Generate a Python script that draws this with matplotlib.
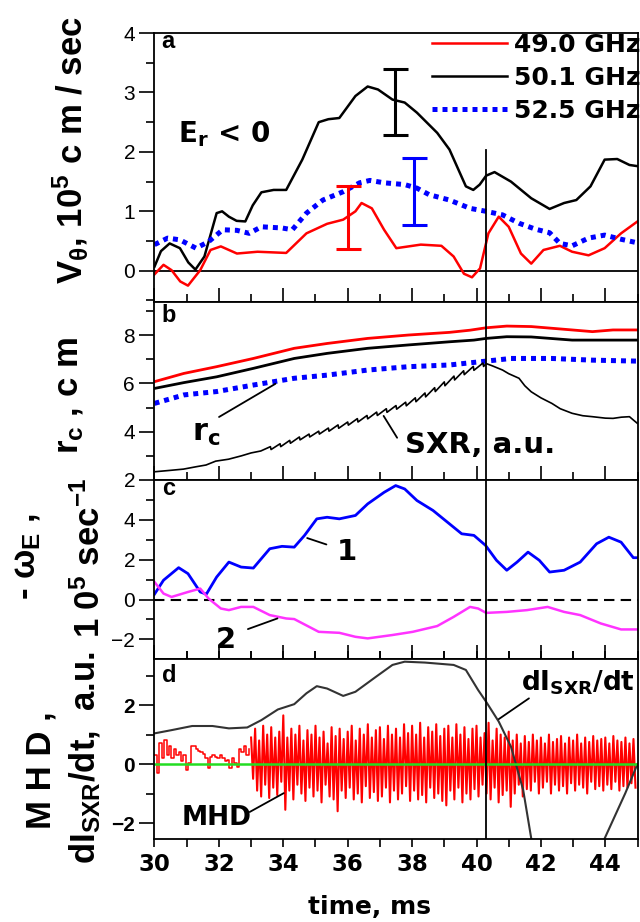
import matplotlib
matplotlib.use("Agg")
import matplotlib.pyplot as plt
import numpy as np
from matplotlib.ticker import MultipleLocator, FixedLocator

# ---- panel a: poloidal velocity, 10^5 cm/s ----
va_t_black = [30.0, 30.2, 30.47, 30.79, 31.05, 31.27, 31.55, 31.93, 32.1, 32.31, 32.55, 32.82, 33.05,
              33.32, 33.7, 34.09, 34.59, 35.10, 35.4, 35.74, 36.24, 36.62, 36.94, 37.39, 37.77,
              38.15, 38.78, 39.16, 39.67, 39.90, 40.10, 40.30, 40.56, 41.07, 41.70, 42.27, 42.72,
              43.10, 43.54, 43.98, 44.37, 44.75, 45.0]
va_black = [0.07, 0.33, 0.46, 0.38, 0.14, 0.02, 0.24, 0.97, 1.0, 0.91, 0.84, 0.83, 1.1,
            1.32, 1.36, 1.36, 1.87, 2.50, 2.55, 2.57, 2.94, 3.10, 3.05, 2.88, 2.83,
            2.66, 2.32, 2.04, 1.42, 1.36, 1.45, 1.60, 1.66, 1.50, 1.22, 1.04, 1.14,
            1.19, 1.42, 1.87, 1.88, 1.78, 1.76]
va_t_red = [30.0, 30.28, 30.53, 30.8, 31.04, 31.42, 31.74, 32.06, 32.56, 33.20, 34.09, 34.72, 35.36,
            35.86, 36.24, 36.43, 36.75, 37.13, 37.51, 37.89, 38.27, 38.91, 39.29, 39.61, 39.86,
            40.11, 40.37, 40.69, 41.00, 41.38, 41.70, 42.08, 42.59, 42.97, 43.48, 43.98, 44.49, 45.0]
va_red = [-0.06, 0.10, 0.01, -0.18, -0.25, 0.01, 0.35, 0.41, 0.29, 0.32, 0.30, 0.63, 0.79,
          0.86, 1.00, 1.14, 1.05, 0.69, 0.38, 0.41, 0.44, 0.42, 0.24, -0.05, -0.11,
          0.04, 0.63, 0.91, 0.74, 0.29, 0.12, 0.35, 0.42, 0.32, 0.26, 0.38, 0.63, 0.83]
va_t_blue = [30.0, 30.41, 30.79, 31.29, 31.68, 32.12, 32.56, 32.94, 33.32, 33.96, 34.28, 34.72,
             35.23, 35.86, 36.37, 36.69, 37.13, 37.77, 38.15, 38.53, 39.16, 39.80, 40.30, 40.81,
             41.32, 41.83, 42.27, 42.59, 42.97, 43.48, 43.98, 44.49, 45.0]
va_blue = [0.44, 0.55, 0.52, 0.38, 0.49, 0.69, 0.68, 0.63, 0.74, 0.72, 0.69, 0.97,
           1.19, 1.33, 1.48, 1.52, 1.48, 1.45, 1.39, 1.28, 1.19, 1.05, 1.00, 0.94,
           0.80, 0.70, 0.64, 0.46, 0.42, 0.55, 0.60, 0.53, 0.47]
err_x = [36.0, 37.47, 38.05]
err_y = [0.90, 2.84, 1.33]
err_half = [0.53, 0.55, 0.56]
err_colors = ["red", "black", "blue"]
freq_labels = ["49.0 GHz", "50.1 GHz", "52.5 GHz"]

# ---- panel b: cutoff radius and SXR ----
rc_t = [30.0, 30.91, 31.93, 33.07, 34.34, 35.36, 36.62, 37.89, 39.16, 39.80, 40.30, 40.94,
        41.70, 42.97, 43.60, 44.24, 45.0]
rc_red = [6.07, 6.41, 6.69, 7.03, 7.45, 7.65, 7.86, 8.00, 8.11, 8.20, 8.30, 8.37,
          8.35, 8.21, 8.14, 8.21, 8.21]
rc_t_black = [30.0, 30.91, 31.93, 33.07, 34.34, 35.36, 36.62, 37.89, 39.16, 39.92, 40.30, 40.94,
              41.70, 42.97, 45.0]
rc_black = [5.79, 6.03, 6.27, 6.62, 7.03, 7.24, 7.45, 7.59, 7.72, 7.79, 7.86, 7.93,
            7.92, 7.79, 7.79]
rc_t_blue = [30.0, 30.91, 31.93, 33.07, 34.34, 35.36, 36.62, 37.89, 39.16, 40.30, 41.07, 42.34,
             43.60, 45.0]
rc_blue = [5.17, 5.52, 5.66, 5.93, 6.21, 6.34, 6.55, 6.69, 6.76, 6.92, 7.03, 7.03,
           6.96, 6.92]
sxr_t = [30.0, 30.5, 30.9, 31.3, 31.6, 31.9, 32.3, 32.7, 33.0, 33.3,
         33.60, 33.62, 33.90, 33.92, 34.20, 34.22, 34.50, 34.52, 34.80, 34.82,
         35.10, 35.12, 35.40, 35.42, 35.70, 35.72, 36.00, 36.02, 36.30, 36.32,
         36.60, 36.62, 36.90, 36.92, 37.20, 37.22, 37.50, 37.52, 37.80, 37.82,
         38.10, 38.12, 38.40, 38.42, 38.70, 38.72, 39.00, 39.02, 39.30, 39.32,
         39.60, 39.62, 39.90, 39.92, 40.20, 40.22, 40.30, 40.50, 40.81, 41.00,
         41.32, 41.50, 41.70, 42.00, 42.34, 42.60, 42.97, 43.30, 43.60, 44.00,
         44.24, 44.50, 44.75, 44.90, 45.0]
sxr_v = [2.34, 2.40, 2.45, 2.55, 2.62, 2.78, 2.86, 3.00, 3.12, 3.20,
         3.38, 3.26, 3.50, 3.38, 3.64, 3.52, 3.78, 3.66, 3.90, 3.78,
         4.02, 3.90, 4.15, 4.02, 4.28, 4.14, 4.40, 4.27, 4.54, 4.40,
         4.67, 4.53, 4.81, 4.67, 4.95, 4.80, 5.08, 4.93, 5.22, 5.07,
         5.40, 5.24, 5.60, 5.44, 5.82, 5.66, 6.06, 5.90, 6.30, 6.14,
         6.52, 6.36, 6.70, 6.54, 6.84, 6.70, 6.82, 6.72, 6.55, 6.40,
         6.21, 5.90, 5.65, 5.40, 5.17, 4.95, 4.76, 4.66, 4.62, 4.56,
         4.55, 4.60, 4.62, 4.45, 4.34]

# ---- panel c: -omega_E, 10^5 1/s ----
w_t1 = [30.0, 30.28, 30.75, 31.04, 31.42, 31.61, 31.93, 32.31, 32.69, 33.07, 33.58, 33.96,
        34.34, 34.66, 35.04, 35.36, 35.74, 36.24, 36.62, 37.13, 37.49, 37.77, 38.15, 38.65,
        39.16, 39.54, 39.92, 40.28, 40.62, 40.94, 41.26, 41.60, 41.95, 42.27, 42.72, 43.22,
        43.73, 44.11, 44.49, 44.87, 45.0]
w_1 = [0.27, 0.97, 1.60, 1.30, 0.38, 0.27, 1.13, 1.88, 1.63, 1.58, 2.55, 2.67,
       2.63, 3.22, 4.05, 4.13, 4.05, 4.22, 4.80, 5.38, 5.72, 5.55, 4.97, 4.47,
       3.80, 3.30, 3.22, 2.72, 1.97, 1.47, 1.88, 2.38, 1.97, 1.38, 1.47, 1.88,
       2.80, 3.13, 2.88, 2.10, 2.10]
w_t2 = [30.0, 30.28, 30.53, 31.04, 31.42, 31.68, 32.06, 32.31, 32.69, 33.07, 33.58, 34.09,
        34.34, 35.10, 35.74, 36.24, 36.62, 37.39, 38.02, 38.78, 39.29, 39.80, 40.05, 40.30,
        40.94, 41.57, 42.21, 42.72, 43.22, 43.86, 44.49, 45.0]
w_2 = [0.88, 0.30, 0.13, 0.38, 0.55, 0.05, -0.45, -0.53, -0.37, -0.37, -0.78, -0.95,
       -0.98, -1.62, -1.67, -1.87, -1.95, -1.78, -1.62, -1.33, -0.87, -0.37, -0.45, -0.67,
       -0.62, -0.53, -0.37, -0.62, -0.78, -1.20, -1.50, -1.50]

# ---- panel d: MHD and dI_SXR/dt ----
dsxr_t = [30.0, 30.53, 31.17, 31.80, 32.31, 32.88, 33.32, 33.83, 34.34, 34.72, 35.04, 35.36,
          35.86, 36.24, 36.88, 37.39, 37.77, 38.40, 39.29, 39.67, 40.05, 40.30, 40.69, 41.07,
          41.45, 41.70, 42.80, 43.98, 44.62, 45.0]
dsxr_v = [1.04, 1.15, 1.29, 1.29, 1.21, 1.24, 1.49, 1.85, 2.03, 2.40, 2.64, 2.56,
          2.31, 2.45, 2.96, 3.36, 3.47, 3.44, 3.36, 3.19, 2.51, 2.11, 1.44, 0.59,
          -0.88, -2.52, -5.5, -2.52, -0.99, 0.0]
mhd_early = [0.30, -0.30, 0.70, 0.20, 0.80, 0.30, 0.60, 0.20, 0.50, 0.30,
             0.40, 0.10, 0.30, -0.20, 0.05, 0.60, 0.60, 0.50, 0.45, 0.40,
             0.35, 0.20, -0.15, 0.25, 0.30, 0.25, 0.20, 0.30, 0.20, 0.10,
             0.15, -0.15, 0.20, 0.05, -0.10, 0.50, 0.40, 0.60, 0.30, 0.50]
mhd_peaks = [0.9, 1.2, 0.8, 1.3, 1.0, 1.25, 0.9, 1.1,
             1.65, 0.9, 1.2, 1.0, 1.3, 0.8, 1.15, 1.0,
             1.3, 0.9, 1.1, 0.7, 1.25, 0.95, 1.2, 0.85,
             1.1, 1.3, 0.8, 1.2, 1.0, 1.35, 0.9, 1.15,
             1.25, 0.85, 1.3, 1.0, 1.2, 0.9, 1.35, 1.05,
             1.3, 1.0, 1.4, 0.9, 1.25, 1.1, 1.35, 0.95,
             1.2, 1.3, 0.9, 1.35, 1.0, 1.25, 0.85, 1.2,
             1.3, 0.9, 1.05, 1.4, 0.8, 1.2, 1.0, 0.9,
             1.1, 0.8, 1.0, 0.7, 0.95, 0.75, 1.0, 0.8,
             0.9, 0.7, 1.0, 0.75, 0.85, 0.95, 0.7, 0.9,
             0.8, 1.0, 0.7, 0.9, 0.75, 0.95, 0.8, 0.85,
             0.9, 0.7, 0.95, 0.8, 0.75, 0.9, 0.7, 0.85]
mhd_troughs = [-0.5, -0.9, -1.1, -0.7, -1.15, -0.8, -1.05, -0.6,
               -1.55, -0.9, -1.2, -0.7, -1.0, -1.25, -0.8, -1.1,
               -0.9, -1.3, -0.7, -1.1, -1.2, -1.6, -0.9, -1.15,
               -0.8, -1.2, -1.0, -1.3, -0.75, -1.15, -0.95, -1.25,
               -1.1, -0.8, -1.3, -0.9, -1.2, -1.0, -0.75, -1.25,
               -0.9, -1.2, -1.05, -1.3, -0.8, -1.15, -1.0, -1.25,
               -1.4, -0.9, -1.2, -0.8, -1.3, -1.0, -1.2, -0.85,
               -1.1, -0.7, -1.0, -1.2, -0.8, -1.3, -1.05, -0.9,
               -1.45, -1.0, -0.7, -1.1, -0.85, -0.9, -0.6, -1.0,
               -0.8, -0.6, -1.0, -0.7, -0.9, -0.75, -1.0, -0.65,
               -0.9, -0.7, -0.8, -1.0, -0.6, -0.85, -0.75, -0.9,
               -0.7, -0.85, -0.6, -0.9, -0.75, -0.8, -0.65, -0.8]

T_EVENT = 40.3        # vertical marker, ms
T_EVENT_TOP_A = 2.03  # marker only reaches this height in panel a

BOLD_WIDE = {"family": "DejaVu Sans", "weight": "bold"}

plt.rcParams.update({
    "font.family": "Liberation Sans",
    "mathtext.default": "regular",
    "axes.linewidth": 1.3,
    "xtick.major.width": 1.2,
    "ytick.major.width": 1.2,
    "xtick.minor.width": 1.2,
    "ytick.minor.width": 1.2,
})

fig = plt.figure(figsize=(6.4, 9.22), dpi=100)
LEFT, WIDTH = 0.2414, 0.7547
ax_a = fig.add_axes([LEFT, 0.6728, WIDTH, 0.2914])
ax_b = fig.add_axes([LEFT, 0.4794, WIDTH, 0.1934])
ax_c = fig.add_axes([LEFT, 0.2849, WIDTH, 0.1945])
ax_d = fig.add_axes([LEFT, 0.0897, WIDTH, 0.1952])
axes = [ax_a, ax_b, ax_c, ax_d]

blue_dots = dict(color="blue", lw=3.6, linestyle=(0, (1.0, 1.0)))

# panel a
ya0, ya1 = -0.52, 4
ax_a.axhline(0, color="black", lw=1.3)
l_red, = ax_a.plot(va_t_red, va_red, color="red", lw=1.8, label=freq_labels[0])
l_blk, = ax_a.plot(va_t_black, va_black, color="black", lw=1.8, label=freq_labels[1])
l_blu, = ax_a.plot(va_t_blue, va_blue, label=freq_labels[2], **blue_dots)
for x, y, h, c in zip(err_x, err_y, err_half, err_colors):
    ax_a.errorbar(x, y, yerr=h, color=c, lw=2.2, capsize=9, capthick=2.2, fmt="none")
ax_a.set_ylim(ya0, ya1)
ax_a.axvline(T_EVENT, ymax=(T_EVENT_TOP_A - ya0) / (ya1 - ya0), color="black", lw=1.3)
ax_a.set_yticks([0, 1, 2, 3, 4])
ax_a.yaxis.set_minor_locator(FixedLocator([-0.5, 0.5, 1.5, 2.5, 3.5]))
ax_a.text(30.73, 2.16, "E$_r$ < 0", fontsize=20, **BOLD_WIDE)
ax_a.legend(handles=[l_red, l_blk, l_blu], loc="upper left", bbox_to_anchor=(0.5745, 1.0),
            frameon=False, borderpad=0, borderaxespad=0, handlelength=3.0,
            handletextpad=0.3, labelspacing=0.36, prop={"family": "DejaVu Sans",
                                                         "weight": "bold", "size": 18})

# panel b
ax_b.plot(rc_t, rc_red, color="red", lw=2)
ax_b.plot(rc_t_black, rc_black, color="black", lw=2)
ax_b.plot(rc_t_blue, rc_blue, **blue_dots)
ax_b.plot(sxr_t, sxr_v, color="black", lw=1.2)
ax_b.axvline(T_EVENT, color="black", lw=1.3)
ax_b.set_ylim(2, 9.38)
ax_b.set_yticks([2, 4, 6, 8])
ax_b.yaxis.set_minor_locator(FixedLocator([3, 5, 7, 9]))
ax_b.text(31.16, 3.6, "r$_c$", fontsize=22, **BOLD_WIDE)
ax_b.annotate("", xy=(33.83, 6.04), xytext=(31.93, 4.55),
              arrowprops=dict(arrowstyle="-", lw=1.3, color="black"))
ax_b.text(37.78, 3.1, "SXR, a.u.", fontsize=21, **BOLD_WIDE)
ax_b.annotate("", xy=(37.07, 4.75), xytext=(37.58, 3.65),
              arrowprops=dict(arrowstyle="-", lw=1.3, color="black"))

# panel c
ax_c.axhline(0, color="black", lw=1.5, dashes=(5, 3))
ax_c.plot(w_t1, w_1, color="blue", lw=2)
ax_c.plot(w_t2, w_2, color="#ff33ff", lw=1.8)
ax_c.axvline(T_EVENT, color="black", lw=1.3)
ax_c.set_ylim(-3, 6)
ax_c.set_yticks([-2, 0, 2, 4])
ax_c.yaxis.set_minor_locator(FixedLocator([-1, 1, 3, 5]))
ax_c.text(35.67, 1.96, "1", fontsize=21, **BOLD_WIDE)
ax_c.annotate("", xy=(34.66, 3.13), xytext=(35.42, 2.72),
              arrowprops=dict(arrowstyle="-", lw=1.3, color="black"))
ax_c.text(31.91, -2.44, "2", fontsize=21, **BOLD_WIDE)
ax_c.annotate("", xy=(33.9, -0.9), xytext=(32.82, -1.53),
              arrowprops=dict(arrowstyle="-", lw=1.3, color="black"))

# panel d
t_early = np.linspace(30.0, 33.0, len(mhd_early), endpoint=False)
mhd_late = np.empty(2 * len(mhd_peaks))
mhd_late[0::2] = mhd_peaks
mhd_late[1::2] = mhd_troughs
t_late = np.linspace(33.0, 45.0, len(mhd_late), endpoint=False)
ax_d.plot(t_early, mhd_early, color="red", lw=1.1, drawstyle="steps-post")
ax_d.plot(t_late, mhd_late, color="red", lw=1.5)
ax_d.plot(dsxr_t, dsxr_v, color="#333333", lw=1.5)
ax_d.axhline(0, color="#22dd22", lw=1.8)
ax_d.axvline(T_EVENT, color="black", lw=1.3)
ax_d.set_ylim(-2.55, 3.55)
ax_d.set_yticks([-2, 0, 2])
ax_d.yaxis.set_minor_locator(FixedLocator([-1, 1, 3]))
ax_d.text(41.38, 2.51, "dI$_{SXR}$/dt", fontsize=19, **BOLD_WIDE)
ax_d.annotate("", xy=(40.62, 1.47), xytext=(41.7, 2.28),
              arrowprops=dict(arrowstyle="-", lw=1.3, color="black"))
ax_d.text(30.85, -2.07, "MHD", fontsize=19, **BOLD_WIDE)
ax_d.annotate("", xy=(34.09, -0.94), xytext=(32.88, -1.67),
              arrowprops=dict(arrowstyle="-", lw=1.3, color="black"))

# shared axis styling
for ax, letter, ly in zip(axes, "abcd", [0.944, 0.888, 0.916, 0.876]):
    ax.set_xlim(30, 45)
    ax.xaxis.set_major_locator(MultipleLocator(2))
    ax.xaxis.set_minor_locator(MultipleLocator(1))
    ax.tick_params(axis="y", which="major", direction="out", length=11, labelsize=15, pad=3)
    ax.tick_params(axis="y", which="minor", direction="out", length=5.5)
    ax.text(0.015, ly, letter, transform=ax.transAxes, fontsize=17, fontweight="bold")
for ax in axes[:3]:
    ax.tick_params(axis="x", which="both", direction="in", labelbottom=False)
    ax.tick_params(axis="x", which="major", length=10)
    ax.tick_params(axis="x", which="minor", length=6)
ax_d.tick_params(axis="x", which="both", direction="out", length=6, top=True)
ax_d.tick_params(axis="x", which="major", labelsize=16.5, pad=4)
for lab in ax_d.get_xticklabels():
    lab.set_fontfamily("DejaVu Sans")
    lab.set_fontweight("bold")
for lab in ax_d.get_yticklabels():
    lab.set_fontweight("bold")

fig.text(0.578, 1 - 914 / 922, "time, ms", ha="center", va="baseline", fontsize=18,
         **BOLD_WIDE)

# rotated axis labels
ylab = dict(rotation=90, rotation_mode="anchor", ha="center", va="baseline",
            fontsize=25, fontweight="bold")
fig.text(82 / 640, 1 - 150 / 922, r"V$_\theta$, 10$^5$ c m / sec", **ylab)
fig.text(78 / 640, 1 - 395 / 922, "r$_c$ , c m", **ylab)
fig.text(35 / 640, 1 - 557 / 922, "- ω$_E$ ,", **ylab)
fig.text(100 / 640, 1 - 558 / 922, "1 0$^5$ sec$^{-1}$", **ylab)
fig.text(50 / 640, 1 - 770 / 922, "M H D ,", **ylab)
fig.text(95 / 640, 1 - 757 / 922, "dI$_{SXR}$/dt,  a.u.", **ylab)

fig.savefig("out.png", dpi=100)
